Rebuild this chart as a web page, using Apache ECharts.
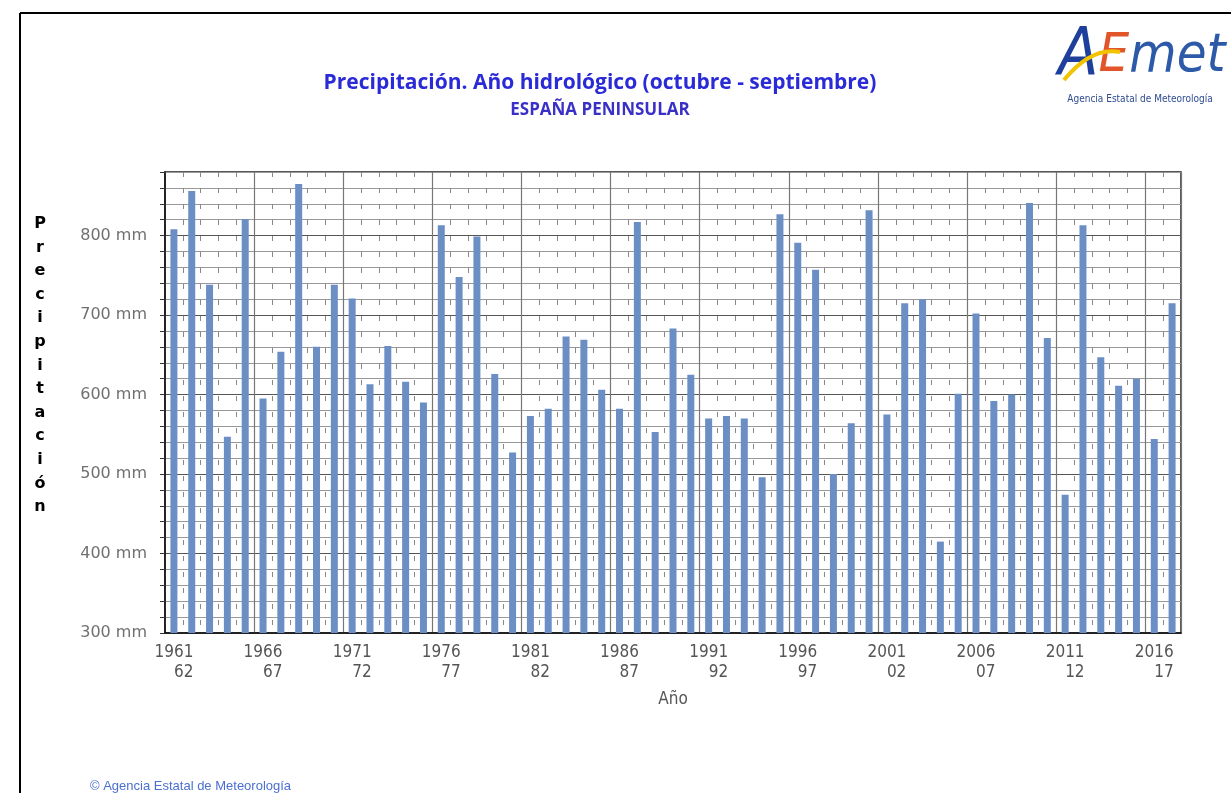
<!DOCTYPE html>
<html>
<head>
<meta charset="utf-8">
<script src="https://cdn.jsdelivr.net/npm/echarts@6/dist/echarts.min.js"></script>
<style>
  html, body { margin: 0; padding: 0; background: #fff; }
  #chart { width: 1231px; height: 793px; }
</style>
</head>
<body>
<div id="chart"></div>
<script>
// años hidrológicos (octubre - septiembre)
var hydroYears = [
  '1961-62','1962-63','1963-64','1964-65','1965-66','1966-67','1967-68','1968-69','1969-70','1970-71',
  '1971-72','1972-73','1973-74','1974-75','1975-76','1976-77','1977-78','1978-79','1979-80','1980-81',
  '1981-82','1982-83','1983-84','1984-85','1985-86','1986-87','1987-88','1988-89','1989-90','1990-91',
  '1991-92','1992-93','1993-94','1994-95','1995-96','1996-97','1997-98','1998-99','1999-00','2000-01',
  '2001-02','2002-03','2003-04','2004-05','2005-06','2006-07','2007-08','2008-09','2009-10','2010-11',
  '2011-12','2012-13','2013-14','2014-15','2015-16','2016-17','2017-18'
];
// precipitación media, España peninsular (mm)
var precipMm = [
  808, 856, 738, 547, 821, 595, 654, 865, 660, 738,
  721, 613, 661, 616, 590, 813, 748, 799, 626, 527,
  573, 582, 673, 669, 606, 582, 817, 553, 683, 625,
  570, 573, 570, 496, 827, 791, 757, 500, 564, 832,
  575, 715, 720, 415, 601, 702, 592, 600, 841, 671,
  474, 813, 647, 611, 620, 544, 715
];
var yTickLabels = [300, 400, 500, 600, 700, 800];

var chart = echarts.init(document.getElementById('chart'));
var narrow = "'Liberation Sans Narrow', 'DejaVu Sans Condensed', sans-serif";

var option = {
  backgroundColor: '#fff',
  animation: false,
  grid: {
    left: 165, right: 50, top: 172, bottom: 160,
    show: true, borderColor: '#222', borderWidth: 1.5
  },
  xAxis: [
    {
      type: 'category',
      data: hydroYears,
      name: 'Año',
      nameLocation: 'middle',
      nameGap: 58,
      nameTextStyle: { color: '#555', fontSize: 17, fontFamily: narrow },
      axisLine: { lineStyle: { color: '#111', width: 1.5 } },
      axisTick: { interval: 0, length: 6, lineStyle: { color: '#333' } },
      axisLabel: {
        interval: function (i) { return i % 5 === 0; },
        margin: 10,
        formatter: function (v) {
          var p = v.split('-');
          return '{a|' + p[0] + '}\n{b|' + p[1] + '}';
        },
        rich: {
          a: { color: '#555', fontSize: 17, fontFamily: narrow, lineHeight: 20 },
          b: { color: '#555', fontSize: 17, fontFamily: narrow, lineHeight: 20, align: 'right' }
        }
      },
      splitLine: {
        show: true, interval: 0,
        lineStyle: { color: '#888', type: [5, 11], width: 1 }
      }
    },
    {
      type: 'category',
      data: hydroYears,
      position: 'bottom',
      axisLine: { show: false },
      axisTick: { show: false },
      axisLabel: { show: false },
      splitLine: {
        show: true,
        interval: function (i) { return i % 5 === 0 && i > 0; },
        lineStyle: { color: '#777', width: 1.2 }
      }
    }
  ],
  yAxis: {
    type: 'value',
    min: 300, max: 880, interval: 20,
    axisLine: { show: true, lineStyle: { color: '#111', width: 1.5 } },
    axisTick: { show: true, length: 5, lineStyle: { color: '#333' } },
    axisLabel: {
      margin: 18,
      color: '#707070',
      fontSize: 16,
      fontFamily: "'DejaVu Sans', sans-serif",
      formatter: function (v) {
        return yTickLabels.indexOf(v) >= 0 ? v + ' mm' : '';
      }
    },
    splitLine: {
      show: true,
      lineStyle: { color: ['#555', '#999', '#999', '#999', '#999'], width: 1.2 }
    }
  },
  series: [
    {
      name: 'Precipitación',
      type: 'bar',
      xAxisIndex: 0,
      data: precipMm,
      barWidth: 7,
      itemStyle: { color: '#6b8fc4' }
    }
  ],
  graphic: [
    { type: 'line', shape: { x1: 20, y1: 13, x2: 1231, y2: 13 }, style: { stroke: '#000', lineWidth: 2 } },
    { type: 'line', shape: { x1: 20, y1: 13, x2: 20, y2: 793 }, style: { stroke: '#000', lineWidth: 2 } },
    {
      type: 'text', style: {
        text: 'Precipitación. Año hidrológico (octubre - septiembre)',
        x: 600, y: 83, textAlign: 'center', textVerticalAlign: 'middle',
        fill: '#2a2ad6', font: 'bold 21px "Open Sans", "Noto Sans", sans-serif'
      }
    },
    {
      type: 'text', style: {
        text: 'ESPAÑA PENINSULAR',
        x: 600, y: 110, textAlign: 'center', textVerticalAlign: 'middle',
        fill: '#3a30c8', font: 'bold 17px "Open Sans", "Noto Sans", sans-serif'
      }
    },
    {
      type: 'text', style: {
        text: 'P\nr\ne\nc\ni\np\ni\nt\na\nc\ni\nó\nn',
        x: 40, y: 212, textAlign: 'center', lineHeight: 23.6,
        fill: '#000', font: 'bold 16px "DejaVu Sans", sans-serif'
      }
    },
    {
      type: 'text', style: {
        text: '© Agencia Estatal de Meteorología',
        x: 90, y: 786, textVerticalAlign: 'middle',
        fill: '#4a6fd0', font: '13px "Liberation Sans", Arial, sans-serif'
      }
    },
    // logotipo
    {
      type: 'text', style: {
        text: '{a|A}{e|E}{m|met}',
        x: 1058, y: 90, textVerticalAlign: 'bottom',
        rich: {
          a: { fill: '#1f3f9c', fontSize: 66, fontStyle: 'italic', fontFamily: narrow },
          e: { fill: '#e2552b', fontSize: 54, fontStyle: 'italic', fontFamily: narrow },
          m: { fill: '#2d5aa8', fontSize: 54, fontStyle: 'italic', fontFamily: narrow }
        }
      }
    },
    {
      type: 'bezierCurve',
      shape: { x1: 1064, y1: 80, cpx1: 1082, cpy1: 58, x2: 1120, y2: 52, cpx2: 1100, cpy2: 48 },
      style: { stroke: '#f2c300', lineWidth: 4, fill: null }
    },
    {
      type: 'text', style: {
        text: 'Agencia Estatal de Meteorología',
        x: 1140, y: 99, textAlign: 'center', textVerticalAlign: 'middle',
        fill: '#2d4a90', font: '10px ' + narrow
      }
    }
  ]
};

chart.setOption(option);
</script>
</body>
</html>
